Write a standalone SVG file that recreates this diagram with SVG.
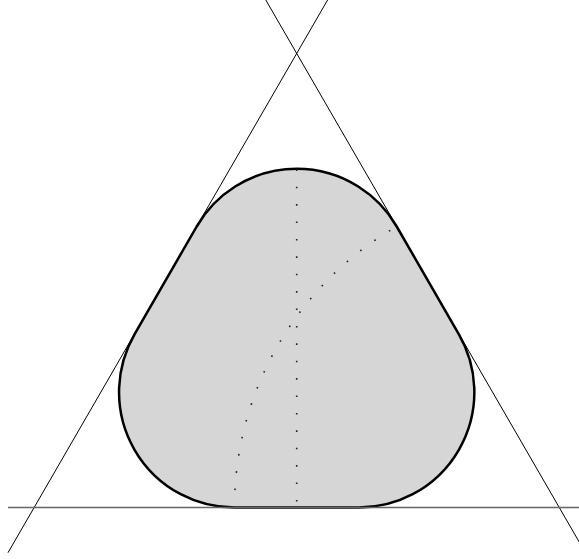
<svg xmlns="http://www.w3.org/2000/svg" width="579" height="559" viewBox="0 0 579 559">
<style>
.ln{stroke:#000;stroke-width:1;fill:none}
.base{stroke:#666;stroke-width:1.6;fill:none}
.dot{stroke:#222;stroke-width:1.6;fill:none;stroke-dasharray:1.6 15.8}
.body{fill:#d6d6d6;stroke:#000;stroke-width:2.5;stroke-linejoin:round}
</style>
<rect width="579" height="559" fill="#fff"/>
<g id="shape">
<path class="body" d="M 196.7 226.5 A 115.5 115.5 0 0 1 396.7 226.5 L 458.9 334.3 A 115.5 115.5 0 0 1 358.9 507.5 L 234.5 507.5 A 115.5 115.5 0 0 1 134.5 334.3 Z"/>
</g>
<g id="dotted">
<path class="dot" d="M 296.7 169.3 L 296.7 507.5"/>
<path class="dot" d="M 234.5 507.5 A 324.4 324.4 0 0 1 396.7 226.5"/>
</g>
<g id="lines">
<line class="ln" x1="8" y1="552.7" x2="327.6" y2="0"/>
<line class="ln" x1="265.8" y1="0" x2="585.4" y2="552.7"/>
<line class="base" x1="8" y1="507.5" x2="585" y2="507.5"/>
</g>
</svg>
